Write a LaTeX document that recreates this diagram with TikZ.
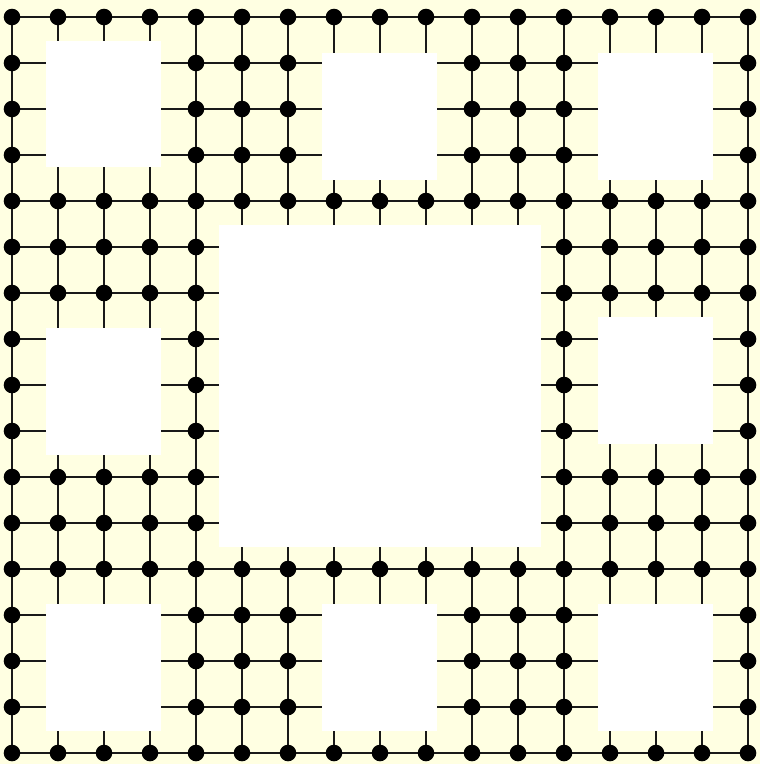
\documentclass[tikz,border=0pt]{standalone}
\definecolor{bgyellow}{RGB}{255,255,226}
\begin{document}
\begin{tikzpicture}[x=1pt,y=-1pt,
  gridline/.style={line width=1.8pt,draw=black!90},
  hole/.style={fill=white},
  dot/.style={circle,fill=black,inner sep=0pt,minimum size=16.6pt}]
\fill[bgyellow] (0,0) rectangle (760,764);
\useasboundingbox (0,0) rectangle (760,764);
% grid points
\foreach \i in {0,...,16}{
  \foreach \j in {0,...,16}{
    \coordinate (p-\i-\j) at ({12+46*\i},{17+46*\j});
  }
}
% grid lines
\foreach \k in {0,...,16}{
  \draw[gridline] (p-0-\k) -- (p-16-\k);
  \draw[gridline] (p-\k-0) -- (p-\k-16);
}
% holes
\fill[hole] (46,41) rectangle (161,167);
\fill[hole] (322,53) rectangle (437,180);
\fill[hole] (598,53) rectangle (713,180);
\fill[hole] (46,328) rectangle (161,455);
\fill[hole] (598,317) rectangle (713,444);
\fill[hole] (46,604) rectangle (161,731);
\fill[hole] (322,604) rectangle (437,731);
\fill[hole] (598,604) rectangle (713,731);
\fill[hole] (219,225) rectangle (541,547);
% dots
\foreach \i in {0,...,16}{
  \foreach \j in {0,...,16}{
    \pgfmathtruncatemacro{\hsm}{and(and(mod(\i,6)>0,mod(\i,6)<4),and(mod(\j,6)>0,mod(\j,6)<4))}
    \pgfmathtruncatemacro{\hcm}{and(and(\i>4,\i<12),and(\j>4,\j<12))}
    \ifnum\numexpr\hsm+\hcm\relax=0
      \node[dot] (d-\i-\j) at (p-\i-\j) {};
    \fi
  }
}
\end{tikzpicture}
\end{document}
